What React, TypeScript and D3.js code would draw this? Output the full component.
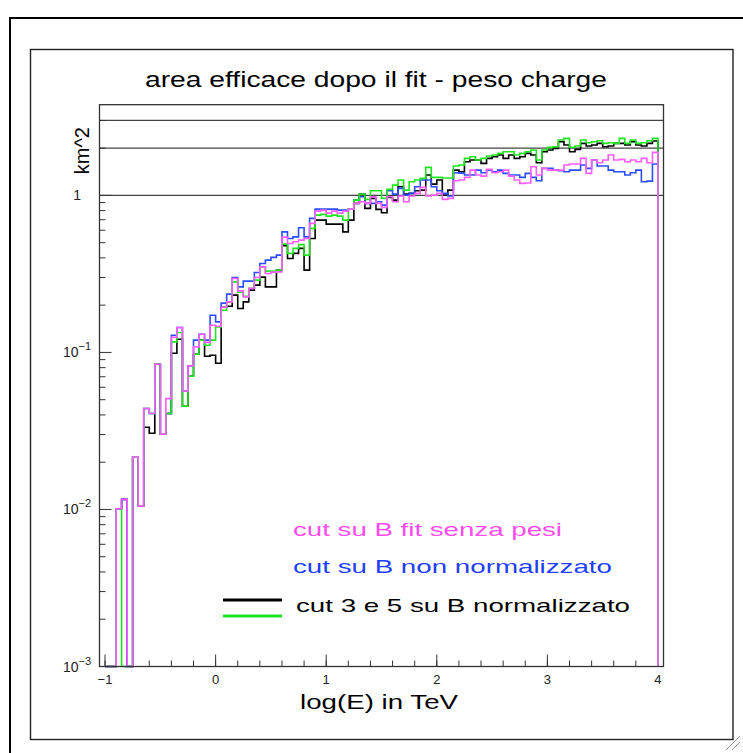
import React, { useEffect, useRef } from "react";
import * as d3 from "d3";

// 100 bins from log(E) = -1 to 4 (width 0.05), values in km^2
const binEdges = d3.range(101).map(i => -1 + i * 0.05);

const pinkFitSenzaPesi = [
  0, 0, 0.0101, 0.0116, 0, 0.0216, 0.0105, 0.0439, 0.0408, 0.0841,
  0.0302, 0.0508, 0.125, 0.1441, 0.0568, 0.0823, 0.1084, 0.1306, 0.1159, 0.1491,
  0.1468, 0.1941, 0.2099, 0.2959, 0.2466, 0.2259, 0.2556, 0.3002, 0.3507, 0.3183,
  0.3245, 0.3257, 0.5423, 0.4943, 0.5062, 0.519, 0.532, 0.6632, 0.794, 0.806,
  0.7711, 0.794, 0.7711, 0.794, 0.8178, 0.8892, 0.9104, 0.8892, 0.9797, 0.8892,
  0.8385, 0.9797, 0.9104, 0.99, 0.9104, 0.99, 1.03, 1.124, 0.99, 1.004,
  1.03, 0.943, 0.957, 1.239, 1.252, 1.302, 1.449, 1.347, 1.327, 1.464,
  1.393, 1.414, 1.449, 1.327, 1.252, 1.193, 1.198, 1.521, 1.347, 1.486,
  1.449, 1.449, 1.449, 1.56, 1.583, 1.583, 1.721, 1.381, 1.679, 1.614,
  1.679, 1.807, 1.679, 1.696, 1.637, 1.679, 1.637, 1.721, 1.614, 1.879
];

const blueNonNormalizzato = [
  0, 0, 0.0101, 0.0116, 0, 0.0216, 0.0105, 0.0439, 0.0408, 0.0841,
  0.0302, 0.0408, 0.1287, 0.1441, 0.0568, 0.0823, 0.1197, 0.1306, 0.1197, 0.1726,
  0.1565, 0.2059, 0.235, 0.3002, 0.2616, 0.2844, 0.2844, 0.323, 0.3686, 0.387,
  0.4027, 0.4165, 0.5861, 0.532, 0.5443, 0.6217, 0.5443, 0.7136, 0.8178, 0.8178,
  0.8178, 0.8178, 0.806, 0.806, 0.8178, 0.9333, 0.9797, 0.8892, 0.8892, 0.9104,
  0.8673, 1.07, 1.0192, 1.108, 1.004, 1.03, 1.134, 1.252, 1.252, 1.134,
  1.07, 1.03, 0.99, 1.393, 1.387, 1.347, 1.347, 1.449, 1.393, 1.449,
  1.414, 1.449, 1.381, 1.347, 1.347, 1.302, 1.381, 1.302, 1.239, 1.486,
  1.486, 1.449, 1.435, 1.414, 1.449, 1.449, 1.56, 1.486, 1.679, 1.537,
  1.537, 1.449, 1.414, 1.414, 1.347, 1.393, 1.449, 1.221, 1.233, 1.583
];

const greenCut35 = [
  0, 0, 0.0101, 0, 0, 0.0216, 0.0105, 0.0439, 0.0408, 0.0841,
  0.0302, 0.0408, 0.1167, 0.1339, 0.0454, 0.0705, 0.0974, 0.1197, 0.1112, 0.1197,
  0.1453, 0.1856, 0.2093, 0.2814, 0.242, 0.2274, 0.2564, 0.2885, 0.3495, 0.3293,
  0.3293, 0.3343, 0.4894, 0.427, 0.4596, 0.4858, 0.4165, 0.6161, 0.7489, 0.757,
  0.738, 0.7489, 0.738, 0.6963, 0.8178, 0.9333, 1.0192, 0.943, 1.07, 1.07,
  0.957, 1.092, 1.163, 1.252, 1.081, 1.221, 1.252, 1.283, 1.508, 1.302,
  1.302, 1.289, 1.289, 1.537, 1.56, 1.721, 1.762, 1.679, 1.721, 1.78,
  1.807, 1.852, 1.896, 1.896, 1.807, 1.852, 1.896, 1.944, 1.679, 1.944,
  2.023, 2.04, 2.251, 2.308, 2.023, 2.062, 2.251, 2.164, 2.196, 2.228,
  2.145, 2.164, 2.145, 2.308, 2.145, 2.251, 2.145, 2.164, 2.228, 2.308
];

const blackCut35 = [
  0, 0, 0.0101, 0.0116, 0, 0.0216, 0.0105, 0.0334, 0.0306, 0.0841,
  0.0302, 0.0408, 0.0989, 0.1214, 0.0454, 0.0705, 0.0974, 0.1197, 0.0946, 0.096,
  0.0853, 0.1941, 0.197, 0.2316, 0.1905, 0.2099, 0.2492, 0.2681, 0.3015, 0.2616,
  0.2616, 0.3343, 0.4784, 0.3968, 0.427, 0.4596, 0.3343, 0.532, 0.6963, 0.6963,
  0.6564, 0.6564, 0.6564, 0.5861, 0.6963, 0.8892, 1.0192, 0.8263, 0.957, 0.8143,
  0.7746, 0.971, 0.9333, 1.134, 1.0192, 1.03, 1.07, 1.081, 1.347, 1.18,
  1.252, 1.004, 1.081, 1.449, 1.414, 1.637, 1.679, 1.679, 1.599, 1.721,
  1.762, 1.807, 1.721, 1.807, 1.721, 1.762, 1.852, 1.807, 1.614, 1.896,
  1.944, 1.993, 2.196, 2.092, 1.896, 1.964, 2.145, 2.062, 2.092, 2.145,
  2.04, 2.062, 2.145, 2.145, 2.092, 2.196, 2.092, 2.062, 2.145, 2.218
];

const refLines = [1, 2, 3];
const xLabels = [-1, 0, 1, 2, 3, 4];
const yDecades = [1e-3, 1e-2, 1e-1, 1];
const yExponents = ["-3", "-2", "-1", ""];

const titleText = "area efficace dopo il fit - peso charge";
const xTitle = "log(E) in TeV";
const yTitle = "km^2";
const legendPink = "cut su B fit senza pesi";
const legendBlue = "cut su B non normalizzato";
const legendBlack = "cut 3 e 5 su B normalizzato";

const font = "'Liberation Sans', Arial, Helvetica, sans-serif";

function Chart() {
  const ref = useRef<SVGSVGElement | null>(null);

  useEffect(() => {
    const svg = d3.select(ref.current);
    svg.selectAll("*").remove();

    const left = 99.5, right = 663.5, top = 104.7, bottom = 666.5;
    const x = d3.scaleLinear().domain([-1.05, 4.05]).range([left, right]);
    const y = d3.scaleLog().domain([1e-3, 3.78]).range([bottom, top]);

    // outer and inner frames of the page
    svg.append("path")
      .attr("d", "M10,760 L10,18 L760,18")
      .attr("fill", "none")
      .attr("stroke", "#000")
      .attr("stroke-width", 2);
    svg.append("rect")
      .attr("x", 30.5).attr("y", 49.5)
      .attr("width", 702.5).attr("height", 690)
      .attr("fill", "none")
      .attr("stroke", "#222")
      .attr("stroke-width", 1.4);

    // title
    svg.append("text")
      .attr("x", 145).attr("y", 87)
      .attr("font-family", font)
      .attr("font-size", 22)
      .attr("textLength", 462)
      .attr("lengthAdjust", "spacingAndGlyphs")
      .text(titleText);

    // reference lines
    svg.selectAll("line.ref")
      .data(refLines)
      .enter()
      .append("line")
      .attr("class", "ref")
      .attr("x1", left).attr("x2", right)
      .attr("y1", d => y(d)).attr("y2", d => y(d))
      .attr("stroke", "#444")
      .attr("stroke-width", 1.3);

    // y ticks
    const minor: number[] = [];
    [1e-3, 1e-2, 1e-1, 1].forEach(dec => {
      for (let m = 2; m <= 9; m++) {
        const v = dec * m;
        if (v < 3.78) minor.push(v);
      }
    });
    svg.selectAll("line.ymin")
      .data(minor)
      .enter()
      .append("line")
      .attr("x1", left).attr("x2", left + 6)
      .attr("y1", d => y(d)).attr("y2", d => y(d))
      .attr("stroke", "#333").attr("stroke-width", 1);
    svg.selectAll("line.ymaj")
      .data(yDecades)
      .enter()
      .append("line")
      .attr("x1", left).attr("x2", left + 12)
      .attr("y1", d => y(d)).attr("y2", d => y(d))
      .attr("stroke", "#333").attr("stroke-width", 1);

    const yl = svg.selectAll("text.ylab")
      .data(yDecades)
      .enter()
      .append("text")
      .attr("font-family", font)
      .attr("font-size", 14)
      .attr("fill", "#222")
      .attr("text-anchor", "end")
      .attr("x", (d, i) => (yExponents[i] ? 91 : 81))
      .attr("y", d => y(d) + 5);
    yl.each(function (d, i) {
      const t = d3.select(this);
      if (!yExponents[i]) {
        t.text("1");
      } else {
        t.append("tspan").text("10");
        t.append("tspan")
          .attr("dy", -7)
          .attr("font-size", 11)
          .text("\u2212" + yExponents[i].slice(1));
      }
    });

    // x ticks
    const xMinor = d3.range(-1, 4.001, 0.2);
    svg.selectAll("line.xmin")
      .data(xMinor)
      .enter()
      .append("line")
      .attr("x1", d => x(d)).attr("x2", d => x(d))
      .attr("y1", bottom).attr("y2", bottom - 6)
      .attr("stroke", "#333").attr("stroke-width", 1);
    svg.selectAll("line.xmaj")
      .data(xLabels)
      .enter()
      .append("line")
      .attr("x1", d => x(d)).attr("x2", d => x(d))
      .attr("y1", bottom).attr("y2", bottom - 12)
      .attr("stroke", "#333").attr("stroke-width", 1);
    svg.selectAll("text.xlab")
      .data(xLabels)
      .enter()
      .append("text")
      .attr("font-family", font)
      .attr("font-size", 13)
      .attr("fill", "#222")
      .attr("text-anchor", "middle")
      .attr("x", d => x(d))
      .attr("y", 684)
      .text(d => (d < 0 ? "\u2212" + Math.abs(d) : String(d)));

    // axis titles
    svg.append("text")
      .attr("x", 300).attr("y", 709)
      .attr("font-family", font)
      .attr("font-size", 21)
      .attr("textLength", 158)
      .attr("lengthAdjust", "spacingAndGlyphs")
      .text(xTitle);
    svg.append("text")
      .attr("transform", "translate(89,127) rotate(-90)")
      .attr("text-anchor", "end")
      .attr("font-family", font)
      .attr("font-size", 20)
      .text(yTitle);

    // histograms
    const stepLine = d3.line<[number, number]>();
    const histPoints = (vals: number[]) => {
      const pts: [number, number][] = [[x(binEdges[0]), bottom]];
      vals.forEach((v, i) => {
        const yy = v > 0 ? y(v) : bottom;
        pts.push([x(binEdges[i]), yy]);
        pts.push([x(binEdges[i + 1]), yy]);
      });
      pts.push([x(binEdges[binEdges.length - 1]), bottom]);
      return pts;
    };
    const series = [
      { vals: blackCut35, color: "#000000" },
      { vals: blueNonNormalizzato, color: "#2a4dff" },
      { vals: greenCut35, color: "#1ee61e" },
      { vals: pinkFitSenzaPesi, color: "#ff5cff" }
    ];
    series.forEach(s => {
      svg.append("path")
        .attr("d", stepLine(histPoints(s.vals)))
        .attr("fill", "none")
        .attr("stroke", s.color)
        .attr("stroke-width", 1.6);
    });

    // frame
    svg.append("rect")
      .attr("x", left).attr("y", top)
      .attr("width", right - left).attr("height", bottom - top)
      .attr("fill", "none")
      .attr("stroke", "#333")
      .attr("stroke-width", 1.3);

    // legend
    svg.append("text")
      .attr("x", 293).attr("y", 536)
      .attr("font-family", font).attr("font-size", 19)
      .attr("fill", "#ff4cf0")
      .attr("textLength", 269).attr("lengthAdjust", "spacingAndGlyphs")
      .text(legendPink);
    svg.append("text")
      .attr("x", 293).attr("y", 573)
      .attr("font-family", font).attr("font-size", 19)
      .attr("fill", "#1f3fff")
      .attr("textLength", 319).attr("lengthAdjust", "spacingAndGlyphs")
      .text(legendBlue);
    svg.append("text")
      .attr("x", 296).attr("y", 612)
      .attr("font-family", font).attr("font-size", 19)
      .attr("fill", "#000")
      .attr("textLength", 334).attr("lengthAdjust", "spacingAndGlyphs")
      .text(legendBlack);
    svg.append("line")
      .attr("x1", 223).attr("x2", 282).attr("y1", 600).attr("y2", 600)
      .attr("stroke", "#000").attr("stroke-width", 3);
    svg.append("line")
      .attr("x1", 223).attr("x2", 282).attr("y1", 616).attr("y2", 616)
      .attr("stroke", "#1ee61e").attr("stroke-width", 3);

    // resize grip
    [[726, 750, 740, 736], [732, 750, 740, 742]].forEach(g => {
      svg.append("line")
        .attr("x1", g[0]).attr("y1", g[1]).attr("x2", g[2]).attr("y2", g[3])
        .attr("stroke", "#999").attr("stroke-width", 1);
    });
  }, []);

  return (
    <svg
      ref={ref}
      width={743}
      height={753}
      style={{ position: "absolute", left: 0, top: 0, background: "#fff" }}
    />
  );
}

export default function App() {
  return <Chart />;
}
